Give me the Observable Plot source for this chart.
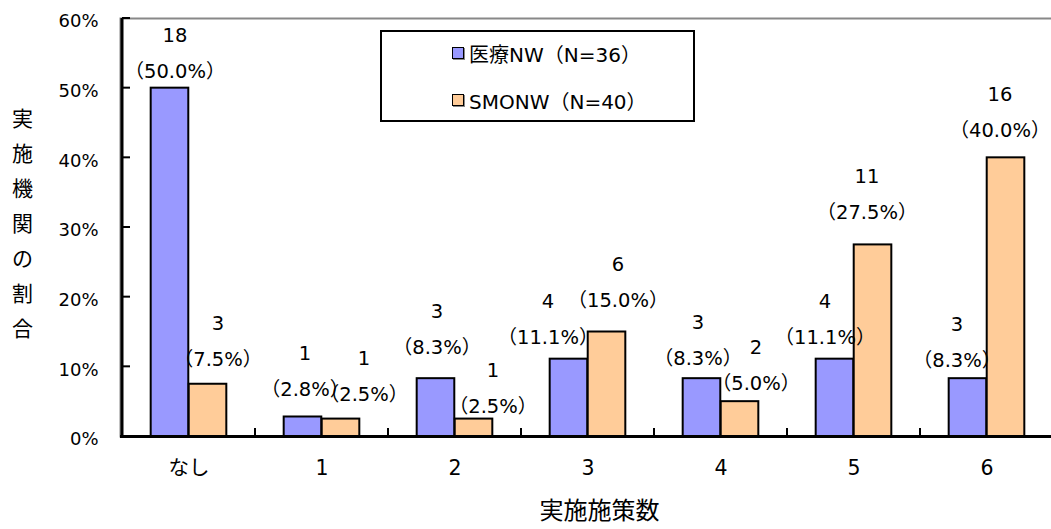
<!DOCTYPE html>
<html>
<head>
<meta charset="utf-8">
<script src="https://cdn.jsdelivr.net/npm/d3@7"></script>
<script src="https://cdn.jsdelivr.net/npm/@observablehq/plot@0.6"></script>
<style>
  body { margin: 0; background: #fff; }
  #chart { position: relative; width: 1051px; height: 529px; overflow: hidden;
           font-family: "DejaVu Sans", "Noto Sans CJK JP", sans-serif; }
  .legend { position: absolute; left: 380px; top: 30px; width: 311px; height: 88px;
            border: 2px solid #000; background: #fff; }
  .legend .item { position: absolute; left: 70px; height: 26px; display: flex; align-items: center;
                  font-size: 20px; color: #000; white-space: nowrap; }
  .legend .swatch { width: 10px; height: 10px; border: 1.5px solid #000; margin-right: 5px;
                    box-shadow: 1px 1px 0 #888; }
</style>
</head>
<body>
<div id="chart"></div>
<script>
// Number of measures implemented per institution
const categories = ["なし", "1", "2", "3", "4", "5", "6"];
const seriesNames = ["医療NW（N=36）", "SMONW（N=40）"];
const seriesColors = ["#9999FF", "#FFCC99"];

// 医療NW: institution counts and shares (%)
const iryoCounts = [18, 1, 3, 4, 3, 4, 3];
const iryoPercents = [50.0, 2.8, 8.3, 11.1, 8.3, 11.1, 8.3];

// SMONW: institution counts and shares (%)
const smoCounts = [3, 1, 1, 6, 2, 11, 16];
const smoPercents = [7.5, 2.5, 2.5, 15.0, 5.0, 27.5, 40.0];

const yTicks = [0, 10, 20, 30, 40, 50, 60];

// hand-placed data labels: nudge (px) of the percentage line from the bar's top centre
const iryoLabelDx = [5, 2, 1, -21, -4, -10, -11];
const iryoLabelDy = [-16, -27, -31, -21, -20, -21, -18];
const smoLabelDx = [10, 23, 19, 11, 16, -6, -6];
const smoLabelDy = [-25, -24, -12, -31, -18, -32, -27];

const rows = [];
categories.forEach((c, i) => {
  rows.push({category: c, series: 0, count: iryoCounts[i], pct: iryoPercents[i], ndx: iryoLabelDx[i], ndy: iryoLabelDy[i]});
  rows.push({category: c, series: 1, count: smoCounts[i], pct: smoPercents[i], ndx: smoLabelDx[i], ndy: smoLabelDy[i]});
});

const width = 1051, height = 529;
const marginLeft = 120, marginRight = -3, marginTop = 18, marginBottom = 93;
const step = (width - marginLeft - marginRight) / categories.length;
const barW = step * 0.285;
const outer = (step - 2 * barW) / 2;
const insets = [
  {insetLeft: outer, insetRight: step - outer - barW},
  {insetLeft: outer + barW, insetRight: outer}
];
const centerShift = [outer + barW / 2 - step / 2, outer + barW * 1.5 - step / 2];

// axis line, inward y ticks and category boundary ticks
function axisDecor(index, scales) {
  const g = d3.create("svg:g").attr("stroke", "#000").attr("fill", "none");
  const x0 = scales.x(categories[0]);
  const y0 = scales.y(0);
  g.append("line").attr("x1", x0).attr("x2", x0)
    .attr("y1", scales.y(60)).attr("y2", y0 + 1.5).attr("stroke-width", 3);
  for (const t of yTicks) {
    g.append("line").attr("x1", x0).attr("x2", x0 + 8)
      .attr("y1", scales.y(t)).attr("y2", scales.y(t)).attr("stroke-width", 2);
  }
  for (const c of categories.slice(1)) {
    const x = scales.x(c);
    g.append("line").attr("x1", x).attr("x2", x)
      .attr("y1", y0).attr("y2", y0 - 8).attr("stroke-width", 2);
  }
  return g.node();
}

const labelMarks = rows.flatMap(r => [
  Plot.text([r], {
    x: "category", y: "pct", text: d => "（" + d.pct.toFixed(1) + "%）",
    dx: centerShift[r.series] + r.ndx, dy: r.ndy, fontSize: 19.5, fill: "#000"
  }),
  Plot.text([r], {
    x: "category", y: "pct", text: d => String(d.count),
    dx: centerShift[r.series] + r.ndx, dy: r.ndy - 36, fontSize: 19.5, fill: "#000"
  })
]);

const chart = Plot.plot({
  width, height, marginLeft, marginRight, marginTop, marginBottom,
  style: {fontFamily: '"DejaVu Sans", "Noto Sans CJK JP", sans-serif', background: "#fff", color: "#000"},
  x: {type: "band", domain: categories, padding: 0},
  y: {domain: [0, 60]},
  marks: [
    Plot.frame({stroke: "#888", strokeWidth: 2}),
    ...[0, 1].map(s => Plot.barY(rows.filter(r => r.series === s), {
      x: "category", y: "pct", fill: seriesColors[s], stroke: "#000", strokeWidth: 2,
      ...insets[s]
    })),
    Plot.ruleY([0], {stroke: "#000", strokeWidth: 3}),
    axisDecor,
    Plot.axisY(yTicks, {tickSize: 0, tickPadding: 22, dy: 3, fontSize: 18,
      tickFormat: d => d + "%", label: null}),
    Plot.axisX({tickSize: 0, tickPadding: 24, fontSize: 20.5, label: null}),
    Plot.text(["実\n施\n機\n関\nの\n割\n合"], {frameAnchor: "left", textAnchor: "middle",
      dx: -98, dy: -8, fontSize: 21, lineHeight: 1.67, fill: "#000"}),
    Plot.text(["実施施策数"], {frameAnchor: "bottom", dx: 12, dy: 82, fontSize: 24, fill: "#000"}),
    ...labelMarks
  ]
});

const root = document.getElementById("chart");
root.appendChild(chart);

const legend = document.createElement("div");
legend.className = "legend";
seriesNames.forEach((name, i) => {
  const item = document.createElement("div");
  item.className = "item";
  item.style.top = (8 + i * 47) + "px";
  const sw = document.createElement("span");
  sw.className = "swatch";
  sw.style.background = seriesColors[i];
  const label = document.createElement("span");
  label.textContent = name;
  item.appendChild(sw);
  item.appendChild(label);
  legend.appendChild(item);
});
root.appendChild(legend);
</script>
</body>
</html>
